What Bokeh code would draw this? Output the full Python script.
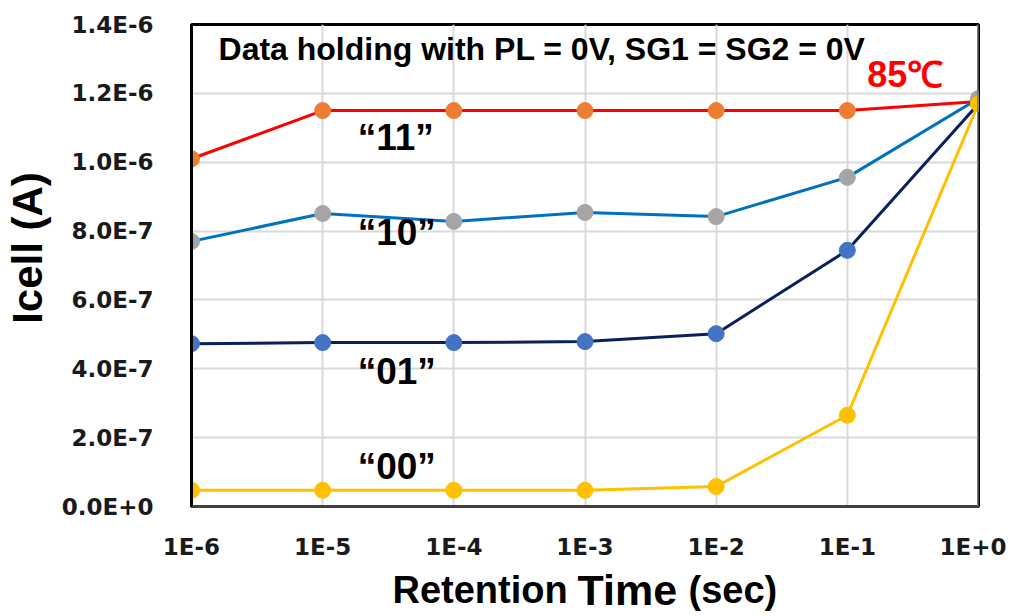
from bokeh.plotting import figure
from bokeh.layouts import column
from bokeh.models import FixedTicker, CustomJSTickFormatter, Label, Span, ColumnDataSource
from bokeh.core.properties import value
from bokeh.embed import file_html
from bokeh.resources import INLINE

# ---- data ----
times = [1e-6, 1e-5, 1e-4, 1e-3, 1e-2, 1e-1, 1e0]
x_tick_labels = ["1E-6", "1E-5", "1E-4", "1E-3", "1E-2", "1E-1", "1E+0"]
y_ticks = [0.0, 2e-7, 4e-7, 6e-7, 8e-7, 1.0e-6, 1.2e-6, 1.4e-6]
y_tick_labels = ["0.0E+0", "2.0E-7", "4.0E-7", "6.0E-7", "8.0E-7", "1.0E-6", "1.2E-6", "1.4E-6"]

state_names = ["\u201c11\u201d", "\u201c10\u201d", "\u201c01\u201d", "\u201c00\u201d"]
icell_11 = [1.010e-6, 1.150e-6, 1.150e-6, 1.150e-6, 1.150e-6, 1.150e-6, 1.176e-6]
icell_10 = [0.770e-6, 0.851e-6, 0.828e-6, 0.854e-6, 0.842e-6, 0.956e-6, 1.185e-6]
icell_01 = [0.473e-6, 0.476e-6, 0.476e-6, 0.479e-6, 0.502e-6, 0.744e-6, 1.170e-6]
icell_00 = [0.047e-6, 0.047e-6, 0.047e-6, 0.047e-6, 0.058e-6, 0.265e-6, 1.170e-6]

series = [
    (icell_11, "#FF0000", "#ED7D31"),
    (icell_10, "#0070C0", "#A5A5A5"),
    (icell_01, "#0B1F5C", "#4472C4"),
    (icell_00, "#FFC000", "#FFC000"),
]

p = figure(width=1006, height=562, x_axis_type="log",
           x_range=(1e-6, 1.0), y_range=(0, 1.4e-6),
           output_backend="svg", toolbar_location=None,
           min_border_left=191, min_border_right=28,
           min_border_top=24, min_border_bottom=56)
p.background_fill_color = "white"
p.border_fill_color = "white"
p.outline_line_color = "black"
p.outline_line_width = 3

# grid
p.xgrid.ticker = FixedTicker(ticks=times)
p.ygrid.ticker = FixedTicker(ticks=y_ticks)
for g in (p.xgrid[0], p.ygrid[0]):
    g.grid_line_color = "#D9D9D9"
    g.grid_line_width = 2

# x axis
xa = p.xaxis[0]
xa.ticker = FixedTicker(ticks=times, minor_ticks=[])
xa.formatter = CustomJSTickFormatter(
    args=dict(vals=times, labs=x_tick_labels),
    code="""
    let best = 0, d = 1e99;
    for (let i = 0; i < vals.length; i++) {
        const dd = Math.abs(Math.log10(vals[i]) - Math.log10(tick));
        if (dd < d) { d = dd; best = i; }
    }
    return labs[best];
    """)
xa.axis_line_color = "#404040"
xa.axis_line_width = 3
xa.major_tick_line_color = None
xa.minor_tick_line_color = None
xa.major_label_standoff = 21
xa.major_label_text_font = "DejaVu Sans"
xa.major_label_text_font_style = "bold"
xa.major_label_text_font_size = "23px"
xa.major_label_text_color = "#1a1a1a"

# y axis
ya = p.yaxis[0]
ya.ticker = FixedTicker(ticks=y_ticks, minor_ticks=[])
ya.formatter = CustomJSTickFormatter(
    args=dict(vals=y_ticks, labs=y_tick_labels),
    code="""
    let best = 0, d = 1e99;
    for (let i = 0; i < vals.length; i++) {
        const dd = Math.abs(vals[i] - tick);
        if (dd < d) { d = dd; best = i; }
    }
    return labs[best];
    """)
ya.axis_line_color = "black"
ya.axis_line_width = 3
ya.major_tick_line_color = None
ya.minor_tick_line_color = None
ya.major_label_standoff = 32
ya.major_label_text_font = "DejaVu Sans"
ya.major_label_text_font_style = "bold"
ya.major_label_text_font_size = "23px"
ya.major_label_text_color = "#1a1a1a"
ya.axis_label = "\u00a0\u00a0\u00a0Icell (A)"
ya.axis_label_text_font = "Liberation Sans"
ya.axis_label_text_font_style = "bold"
ya.axis_label_text_font_size = "42px"
ya.axis_label_text_color = "black"
ya.axis_label_standoff = 8

# right border in gray
p.add_layout(Span(location=1.0, dimension="height", line_color="#7F7F7F", line_width=3))

# series
for vals, lc, mc in series:
    src = ColumnDataSource(dict(x=times, y=vals))
    p.line("x", "y", source=src, line_color=lc, line_width=3)
    p.scatter("x", "y", source=src, size=16, fill_color=mc, line_color=mc)

# annotations
def lab(text, x, y, size, color="black"):
    p.add_layout(Label(x=x, y=y, text=text, text_font="Liberation Sans",
                       text_font_style="bold", text_font_size=size,
                       text_color=color, text_align="left",
                       text_baseline="alphabetic"))

lab("Data holding with PL = 0V, SG1 = SG2 = 0V", 1.607e-6, 1.328e-6, "32px")
lab("85\u2103", 0.142, 1.255e-6, "36px", color="#FF0000")
label_y = [1.071e-6, 0.795e-6, 0.392e-6, 0.116e-6]
for name, yv in zip(state_names, label_y):
    lab(name, 1.85e-5, yv, "37px")

# x axis title strip (mixed font sizes); its frame is aligned with the main frame
p2 = figure(width=1006, height=52, x_range=(191, 978), y_range=(0, 52),
            output_backend="svg", toolbar_location=None,
            min_border_left=191, min_border_right=28, min_border_top=0, min_border_bottom=0)
p2.axis.visible = False
p2.grid.visible = False
p2.outline_line_color = None
p2.background_fill_color = "white"
p2.border_fill_color = "white"
title_parts = ["Retention", "Time", "(sec)"]
title_sizes = ["38px", "43px", "38px"]
title_x = [392, 577, 688]
for t, s, xx in zip(title_parts, title_sizes, title_x):
    p2.text(x=[xx], y=[25], text=[t], text_font=value("Liberation Sans"),
            text_font_style="bold", text_font_size=s, text_color="black",
            text_align="left", text_baseline="alphabetic")

layout = column(p, p2, spacing=0)
open("out.html", "w").write(file_html(layout, INLINE))
